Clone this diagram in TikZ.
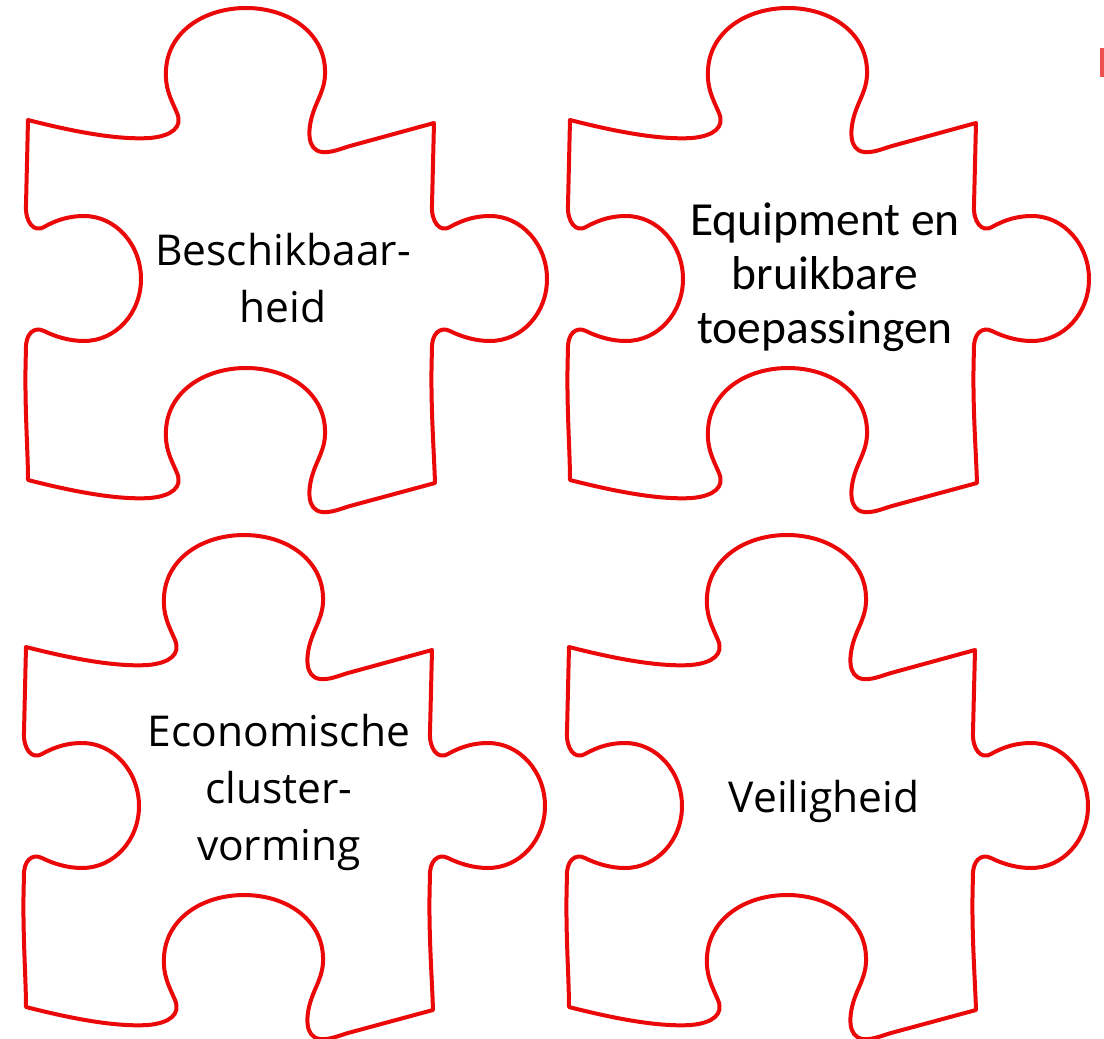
\documentclass[tikz,border=0pt]{standalone}
\usepackage{fontspec}
\setmainfont{Open Sans}
\newfontfamily\candfont{Carlito}
\definecolor{puzred}{RGB}{235,8,8}
\definecolor{barred}{RGB}{238,80,80}
\tikzset{
  piece/.style={draw=puzred, line width=4pt, line join=round},
  lbl/.style={align=center, text=black, inner sep=0pt, anchor=base,
              font=\fontsize{42.5}{57}\selectfont},
  lblc/.style={align=center, text=black, inner sep=0pt, anchor=base,
              font=\candfont\fontsize{47.5}{54}\selectfont},
  pics/puzzle/.style={code={
    \draw[piece] (28,120)
      .. controls (75,132) and (118,140) .. (150,138)
      .. controls (172,136) and (183,127) .. (177,113)
      .. controls (170,97) and (165,88) .. (166,70)
      .. controls (168,31) and (205,8) .. (246,8)
      .. controls (289,8) and (324,33) .. (325,70)
      .. controls (326,88) and (317,100) .. (313,113)
      .. controls (308,128) and (306,150) .. (322,152)
      .. controls (331,153) and (340,149) .. (350,146)
      -- (434,123)
      -- (432,205)
      .. controls (431,222) and (440,233) .. (450,227)
      .. controls (464,219) and (477,216) .. (490,216)
      .. controls (522,216) and (547,245) .. (547,279)
      .. controls (547,313) and (522,341) .. (490,341)
      .. controls (476,341) and (462,337) .. (450,331)
      .. controls (440,326) and (431,334) .. (432,350)
      .. controls (430,400) and (434,450) .. (435,483)
      -- (350,506)
      .. controls (340,509) and (331,513) .. (322,512)
      .. controls (306,510) and (308,488) .. (313,473)
      .. controls (317,460) and (326,448) .. (325,430)
      .. controls (324,393) and (289,368) .. (246,368)
      .. controls (205,368) and (168,391) .. (166,430)
      .. controls (165,448) and (170,457) .. (177,473)
      .. controls (183,487) and (172,496) .. (150,498)
      .. controls (118,500) and (75,492) .. (28,480)
      .. controls (28,450) and (24,400) .. (26,350)
      .. controls (25,334) and (34,326) .. (44,331)
      .. controls (56,337) and (70,341) .. (84,341)
      .. controls (116,341) and (141,313) .. (141,279)
      .. controls (141,245) and (116,216) .. (84,216)
      .. controls (71,216) and (58,219) .. (44,227)
      .. controls (34,233) and (25,222) .. (26,205)
      -- cycle;
  }}
}
\begin{document}
\begin{tikzpicture}[x=1pt,y=-1pt]
\useasboundingbox (0,0) rectangle (1104,1039);
\fill[white] (0,0) rectangle (1104,1039);
\pic at (0,0) {puzzle};
\pic at (542,0) {puzzle};
\pic at (-2,527) {puzzle};
\pic at (541,527) {puzzle};
\fill[barred] (1100,48) rectangle (1104,77);
\node[lbl] (t1) at (283,322) {Beschikbaar-\\heid};
\node[lblc] (t2) at (825,343) {Equipment en\\bruikbare\\toepassingen};
\node[lbl] (t3) at (279,860) {Economische\\cluster-\\vorming};
\node[lbl] (t4) at (824,812) {Veiligheid};
\end{tikzpicture}
\end{document}
